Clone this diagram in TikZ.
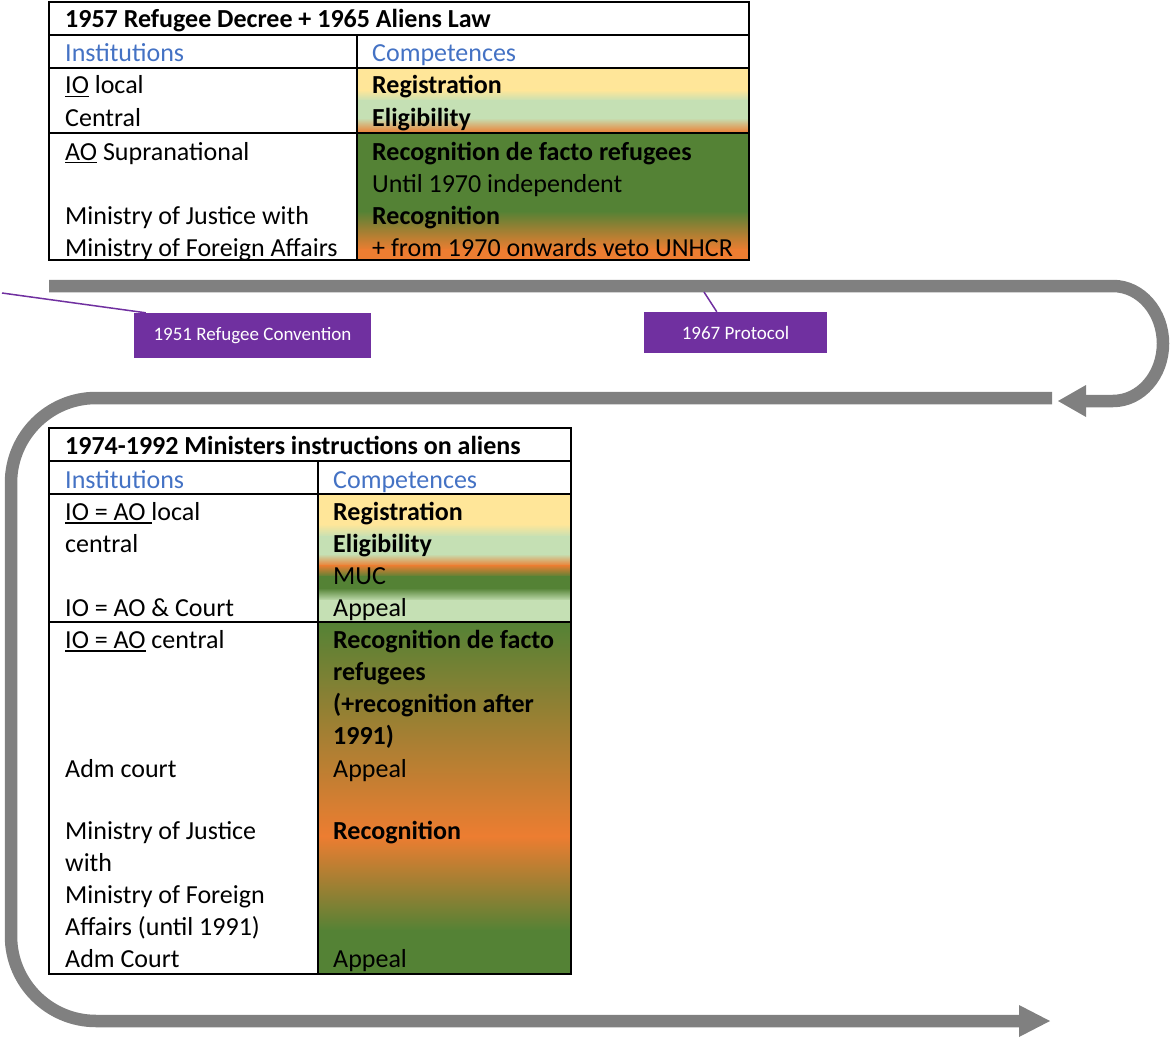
\documentclass[tikz,border=0pt]{standalone}
\usepackage{fontspec}
\setmainfont{Carlito}
\definecolor{yel}{HTML}{FFE699}
\definecolor{lgr}{HTML}{C5E0B4}
\definecolor{org}{HTML}{ED7D31}
\definecolor{dgr}{HTML}{548235}
\definecolor{hblue}{HTML}{4472C4}
\definecolor{purp}{HTML}{7030A0}
\definecolor{agray}{HTML}{808080}
\newcommand\myul[1]{\leavevmode\setbox0\hbox{#1}\rlap{\rule[-3.5pt]{\wd0}{1.3pt}}\box0\relax}
\newcommand\grad[6]{\fill[top color=#5,bottom color=#6] (#1,#3) rectangle (#2,#4);}
\newcommand\solid[5]{\fill[#5] (#1,#3) rectangle (#2,#4);}
\begin{document}
\begin{tikzpicture}[x=1pt,y=-1pt,
  txt/.style={anchor=base west,inner sep=0pt,font=\fontsize{26}{32}\selectfont},
  btxt/.style={txt,font=\fontsize{26}{32}\selectfont\bfseries},
  htxt/.style={txt,text=hblue},
  tline/.style={line width=1.5pt,black},
  band/.style={line width=12.5pt,agray},
  callout/.style={fill=purp,text=white,inner sep=0pt,font=\fontsize{19}{22}\selectfont},
  cline/.style={purp,line width=1.5pt}]
\useasboundingbox (0,0) rectangle (1171,1041);

% ---------- top table fills ----------
\solid{357}{749}{68}{91}{yel}
\grad{357}{749}{90}{101}{yel}{lgr}
\solid{357}{749}{100}{119}{lgr}
\grad{357}{749}{118}{133}{lgr}{org}
\solid{357}{749}{133}{212}{dgr}
\grad{357}{749}{211}{250}{dgr}{org}
\solid{357}{749}{249}{260}{org}
% borders
\draw[tline] (49,2) rectangle (749,260);
\draw[tline] (49,35) -- (749,35);
\draw[tline] (49,68) -- (749,68);
\draw[tline] (49,133) -- (749,133);
\draw[tline] (357,35) -- (357,260);
% texts
\node[btxt] (t1) at (65,28) {1957 Refugee Decree + 1965 Aliens Law};
\node[htxt] (t1i) at (65,62) {Institutions};
\node[htxt] (t1c) at (372,62) {Competences};
\node[txt] (t1a) at (65,94) {\myul{IO} local};
\node[btxt] (t1b) at (372,94) {Registration};
\node[txt] (t1d) at (65,126) {Central};
\node[btxt] (t1e) at (372,126) {Eligibility};
\node[txt] (t1f) at (65,160) {\myul{AO} Supranational};
\node[btxt] (t1g) at (372,160) {Recognition de facto refugees};
\node[txt] (t1h) at (372,192) {Until 1970 independent};
\node[txt] (t1j) at (65,224) {Ministry of Justice with};
\node[btxt] (t1k) at (372,224) {Recognition};
\node[txt] (t1l) at (65,256) {Ministry of Foreign Affairs};
\node[txt] (t1m) at (372,256) {+ from 1970 onwards veto UNHCR};

% ---------- arrows ----------
\draw[band] (49,286) -- (1113,286)
  arc[start angle=-90,end angle=90,x radius=50,y radius=57.5] -- (1084,401);
\fill[agray] (1086,385) -- (1058,401) -- (1086,417) -- cycle;

\draw[band] (1052,398) -- (96,398)
  arc[start angle=270,end angle=180,radius=85] -- (11,936)
  arc[start angle=180,end angle=90,radius=85] -- (1021,1021);
\fill[agray] (1019,1005) -- (1050,1021) -- (1019,1037) -- cycle;

% ---------- callouts ----------
\node[callout,minimum width=237pt,minimum height=45pt] (conv) at (252.5,335.5) {1951 Refugee Convention};
\node[callout,minimum width=183pt,minimum height=41pt] (prot) at (735.5,332.5) {1967 Protocol};
\coordinate (c1) at (2,293);
\coordinate (c2) at (704,292);
\draw[cline] (c1) -- ([xshift=12pt]conv.north west);
\draw[cline] (c2) -- ([xshift=73pt]prot.north west);

% ---------- bottom table fills ----------
\solid{318}{571}{494}{525}{yel}
\grad{318}{571}{524}{537}{yel}{lgr}
\solid{318}{571}{536}{555}{lgr}
\grad{318}{571}{554}{566}{lgr}{org}
\grad{318}{571}{565}{577}{org}{dgr}
\solid{318}{571}{576}{589}{dgr}
\grad{318}{571}{588}{601}{dgr}{lgr}
\solid{318}{571}{600}{622}{lgr}
\grad{318}{571}{622}{837}{dgr}{org}
\grad{318}{571}{836}{931}{org}{dgr}
\solid{318}{571}{930}{974}{dgr}
% borders
\draw[tline] (49,428) rectangle (571,974);
\draw[tline] (49,461) -- (571,461);
\draw[tline] (49,494) -- (571,494);
\draw[tline] (49,622) -- (571,622);
\draw[tline] (318,461) -- (318,974);
% texts
\node[btxt] (b1) at (65,454) {1974-1992 Ministers instructions on aliens};
\node[htxt] (b1i) at (65,488) {Institutions};
\node[htxt] (b1c) at (333,488) {Competences};
\node[txt] (b2) at (65,520) {\myul{IO = AO\ }local};
\node[btxt] (b3) at (333,520) {Registration};
\node[txt] (b4) at (65,552) {central};
\node[btxt] (b5) at (333,552) {Eligibility};
\node[txt] (b6) at (333,584) {MUC};
\node[txt] (b7) at (65,616) {IO = AO \& Court};
\node[txt] (b8) at (333,616) {Appeal};
\node[txt] (b9) at (65,648) {\myul{IO = AO} central};
\node[btxt] (b10) at (333,648) {Recognition de facto};
\node[btxt] (b11) at (333,680) {refugees};
\node[btxt] (b12) at (333,712) {(+recognition after};
\node[btxt] (b13) at (333,744) {1991)};
\node[txt] (b14) at (65,777) {Adm court};
\node[txt] (b15) at (333,777) {Appeal};
\node[txt] (b16) at (65,839) {Ministry of Justice};
\node[btxt] (b17) at (333,839) {Recognition};
\node[txt] (b18) at (65,871) {with};
\node[txt] (b19) at (65,903) {Ministry of Foreign};
\node[txt] (b20) at (65,935) {Affairs (until 1991)};
\node[txt] (b21) at (65,967) {Adm Court};
\node[txt] (b22) at (333,967) {Appeal};
\end{tikzpicture}
\end{document}
